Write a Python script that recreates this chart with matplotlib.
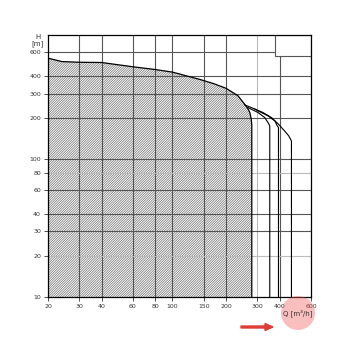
import matplotlib
matplotlib.use("Agg")
import matplotlib.pyplot as plt
from matplotlib.patches import Rectangle, Circle, FancyArrow

# envelope of the hatched range (Q in m3/h, H in m)
main_q = [20, 23.9, 30, 40, 60, 80, 100, 143, 170, 200, 233, 254, 265, 272, 277, 279]
main_h = [543, 513, 507, 505, 470, 449, 430, 380, 355, 328, 290, 252, 234, 219, 196, 178]

# extra curves to the right
c2_q = [265, 302, 330, 344, 352]
c2_h = [238, 219, 201, 185, 175]
c3_q = [290, 302, 344, 376, 388, 394]
c3_h = [232, 225, 207, 190, 175, 170]
c4_q = [254, 290, 322, 360, 394, 426, 450, 466]
c4_h = [249, 232, 219, 201, 180, 161, 148, 136]

x_ticks = [20, 30, 40, 60, 80, 100, 150, 200, 300, 400, 600]
y_ticks = [10, 20, 30, 40, 60, 80, 100, 200, 300, 400, 600]
light_x = [300]
light_y = [20, 80]

plt.rcParams['hatch.linewidth'] = 0.5

fig = plt.figure(figsize=(3.5, 3.5), dpi=100)
ax = fig.add_axes([48 / 350, 1 - 297 / 350, 263 / 350, 262 / 350])
ax.set_xscale('log')
ax.set_yscale('log')
ax.set_xlim(20, 600)
ax.set_ylim(10, 800)

# grid
for x in x_ticks[1:-1]:
    ax.axvline(x, color='#bbbbbb' if x in light_x else '#555555', lw=0.8, zorder=2)
for y in y_ticks[1:]:
    ax.axhline(y, color='#bbbbbb' if y in light_y else '#555555', lw=0.8, zorder=2)

# hatched area
ax.fill_between(main_q, main_h, 10, facecolor='white', edgecolor='#707070',
                hatch='//////////////', linewidth=0, zorder=1)
ax.plot(main_q + [main_q[-1]], main_h + [10], color='black', lw=0.9, zorder=3)
for q, h in [(c2_q, c2_h), (c3_q, c3_h), (c4_q, c4_h)]:
    ax.plot(q + [q[-1]], h + [10], color='black', lw=0.8, zorder=3)

# blank box top right
ax.add_patch(Rectangle((377, 565), 600 - 377, 800 - 565, facecolor='white',
                       edgecolor='#555555', lw=0.8, zorder=4))

ax.minorticks_off()
ax.set_xticks(x_ticks)
ax.set_xticklabels([str(v) for v in x_ticks])
ax.set_yticks(y_ticks)
ax.set_yticklabels([str(v) for v in y_ticks])
ax.tick_params(labelsize=4.5, length=3, width=0.6, colors='#333333', pad=2)
for s in ax.spines.values():
    s.set_linewidth(0.9)
    s.set_zorder(5)

fig.text(38 / 350, 1 - 37 / 350, 'H', fontsize=5, color='#333333', ha='center', va='center')
fig.text(38 / 350, 1 - 44 / 350, '[m]', fontsize=5, color='#333333', ha='center', va='center')

# highlight circle and arrow
fig.patches.append(Circle((298 / 350, 1 - 313 / 350), 17 / 350, transform=fig.transFigure,
                          facecolor='#f06060', alpha=0.4, edgecolor='none', zorder=0))
fig.text(298 / 350, 1 - 313 / 350, 'Q [m³/h]', fontsize=5, color='#333333',
         ha='center', va='center', zorder=6)
fig.patches.append(FancyArrow(241 / 350, 1 - 327 / 350, 24 / 350, 0, width=2 / 350,
                              head_width=7 / 350, head_length=8 / 350,
                              transform=fig.transFigure, color='#e03c36', zorder=6))

plt.savefig('out.png', dpi=100)
